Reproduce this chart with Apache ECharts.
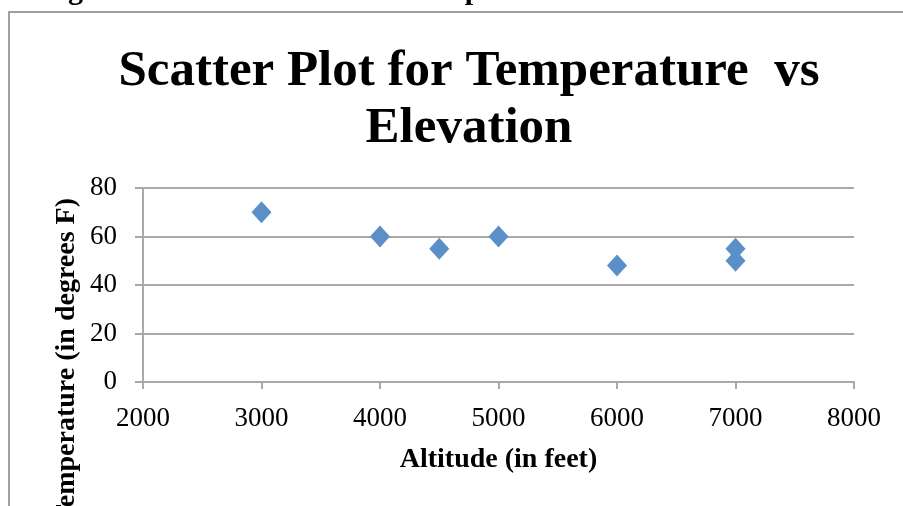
<!DOCTYPE html>
<html>
<head>
<meta charset="utf-8">
<script src="https://cdn.jsdelivr.net/npm/echarts@6/dist/echarts.min.js"></script>
<style>
html,body{margin:0;padding:0;background:#fff;}
#chart{width:903px;height:506px;}
</style>
</head>
<body>
<div id="chart"></div>
<script>
// Data
const altitudes = [3000, 4000, 4500, 5000, 6000, 7000, 7000];
const temperatures = [70, 60, 55, 60, 48, 55, 50];
const chartTitle = 'Scatter Plot for Temperature  vs\nElevation';
const figureCaption = 'Figure10.3.7: Scatter Plot of Temperature Versus Elevation';
const xAxisTitle = 'Altitude (in feet)';
const yAxisTitle = 'Temperature (in degrees F)';

const points = altitudes.map((a, i) => [a, temperatures[i]]);
const gridColor = '#a9a9a9';

const chart = echarts.init(document.getElementById('chart'), null, {renderer: 'canvas'});
chart.setOption({
  animation: false,
  backgroundColor: '#ffffff',
  title: {
    text: chartTitle,
    left: 464,
    top: 38,
    textAlign: 'center',
    textStyle: {
      fontFamily: 'Liberation Serif',
      fontWeight: 'bold',
      fontSize: 51,
      lineHeight: 57,
      color: '#000'
    }
  },
  graphic: [
    {
      type: 'rect',
      shape: {x: 9, y: 12, width: 1000, height: 700},
      style: {fill: 'none', stroke: '#a0a0a0', lineWidth: 2},
      silent: true
    },
    {
      type: 'text',
      x: 798, y: 6,
      style: {
        text: figureCaption,
        textAlign: 'right',
        textVerticalAlign: 'bottom',
        font: 'bold 30px "Liberation Serif"',
        fill: '#000'
      },
      silent: true
    },
    {
      type: 'text',
      x: 67, y: 198,
      rotation: Math.PI / 2,
      style: {
        text: yAxisTitle,
        textAlign: 'right',
        textVerticalAlign: 'middle',
        font: 'bold 28px "Liberation Serif"',
        fill: '#000'
      },
      silent: true
    }
  ],
  grid: {left: 143, right: 49, top: 188, bottom: 124, containLabel: false},
  xAxis: {
    type: 'value',
    min: 2000, max: 8000, interval: 1000,
    name: xAxisTitle,
    nameLocation: 'middle',
    nameGap: 64,
    nameTextStyle: {fontFamily: 'Liberation Serif', fontWeight: 'bold', fontSize: 28, color: '#000'},
    axisLine: {show: true, lineStyle: {color: gridColor, width: 2}},
    axisTick: {show: true, length: 7, lineStyle: {color: gridColor, width: 2}},
    axisLabel: {margin: 23, fontFamily: 'Liberation Serif', fontSize: 27, color: '#000', formatter: v => String(v)},
    splitLine: {show: false}
  },
  yAxis: {
    type: 'value',
    min: 0, max: 80, interval: 20,
    axisLine: {show: true, lineStyle: {color: gridColor, width: 2}},
    axisTick: {show: true, length: 8, lineStyle: {color: gridColor, width: 2}},
    axisLabel: {margin: 26, fontFamily: 'Liberation Serif', fontSize: 27, color: '#000', formatter: v => String(v)},
    splitLine: {show: true, lineStyle: {color: gridColor, width: 2}}
  },
  series: [{
    type: 'scatter',
    data: points,
    symbol: 'diamond',
    symbolSize: [20, 22],
    itemStyle: {color: '#5b8fc8', opacity: 1}
  }]
});
</script>
</body>
</html>
